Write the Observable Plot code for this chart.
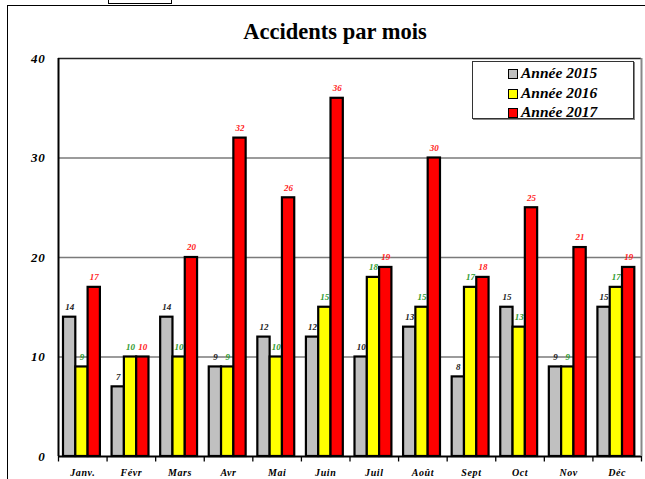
<!DOCTYPE html>
<html>
<head>
<meta charset="utf-8">
<script src="https://cdn.jsdelivr.net/npm/d3@7"></script>
<script src="https://cdn.jsdelivr.net/npm/@observablehq/plot@0.6"></script>
<style>
  html, body { margin: 0; padding: 0; background: #fff; }
  #wrap { position: relative; width: 645px; height: 479px; overflow: hidden; font-family: "Liberation Serif", "DejaVu Serif", serif; }
  #chart { position: absolute; left: 0; top: 0; }
  #frame { position: absolute; left: 7px; top: 5px; width: 700px; height: 600px; border-left: 1.5px solid #000; border-top: 1.5px solid #000; }
  #tab { position: absolute; left: 108px; top: -2px; width: 62px; height: 4px; border: 1px solid #000; background: #fff; }
  #title { position: absolute; left: 185px; top: 19px; width: 300px; text-align: center; font-weight: bold; font-size: 22.5px; color: #000; }
  #legend { position: absolute; left: 472px; top: 61px; width: 160px; height: 56px; border: 1.5px solid #333; background: #fff; box-shadow: 1px 1px 0 #888; }
  .item { position: absolute; left: 35px; height: 18px; font-weight: bold; font-style: italic; font-size: 15.5px; line-height: 18px; white-space: nowrap; }
  .sw { display: inline-block; width: 10px; height: 10px; border: 1px solid #000; margin-right: 3px; vertical-align: -1px; box-sizing: border-box; }
  #chart svg g[aria-label="x-axis tick label"] text { letter-spacing: 0.6px; }
  #chart svg g[aria-label="y-axis tick label"] text { letter-spacing: 0.8px; }
</style>
</head>
<body>
<div id="wrap">
  <div id="chart"></div>
  <div id="frame"></div>
  <div id="tab"></div>
  <div id="title">Accidents par mois</div>
  <div id="legend"></div>
</div>
<script>
const months = ["Janv.", "Févr", "Mars", "Avr", "Mai", "Juin", "Juil", "Août", "Sept", "Oct", "Nov", "Déc"];
const years = ["Année 2015", "Année 2016", "Année 2017"];
const v2015 = [14, 7, 14, 9, 12, 12, 10, 13, 8, 15, 9, 15];
const v2016 = [9, 10, 10, 9, 10, 15, 18, 15, 17, 13, 9, 17];
const v2017 = [17, 10, 20, 32, 26, 36, 19, 30, 18, 25, 21, 19];
const yTicks = [0, 10, 20, 30, 40];
const barColors = ["#c0c0c0", "#ffff00", "#ff0000"];
const labelColors = ["#222222", "#2e9a2e", "#ff1a1a"];

const series = [v2015, v2016, v2017];

const W = 645, H = 479;
const mL = 58, mR = 4, mT = 58, mB = 23;
const band = (W - mL - mR) / months.length;
const padL = 5, barW = 12.3;

const marks = [];
// gridlines
marks.push(Plot.ruleY(yTicks.filter(t => t > 0 && t < 40), {stroke: "#7a7a7a", strokeWidth: 1.5}));
marks.push(Plot.ruleY([40], {stroke: "#222", strokeWidth: 1.5}));

series.forEach((vals, i) => {
  const rows = months.map((m, j) => ({month: m, value: vals[j]}));
  const left = padL + barW * i;
  const right = band - left - barW;
  marks.push(Plot.barY(rows, {
    x: "month", y: "value", fill: barColors[i], stroke: "#000", strokeWidth: 2.2,
    insetLeft: left, insetRight: right
  }));
  marks.push(Plot.text(rows, {
    x: "month", y: "value", text: d => String(d.value),
    dx: left + barW / 2 - band / 2, dy: -10,
    fill: labelColors[i], fontSize: 9, fontWeight: "bold", fontStyle: "italic"
  }));
});

// axes lines
marks.push(Plot.ruleY([0], {stroke: "#000", strokeWidth: 2}));
marks.push(Plot.ruleX([months[0]], {y1: 0, y2: 40, dx: -band / 2, stroke: "#000", strokeWidth: 2}));
marks.push(Plot.ruleX([months[months.length - 1]], {y1: 0, y2: 40, dx: band / 2, stroke: "#888", strokeWidth: 2}));
// x ticks at band boundaries
marks.push(Plot.ruleX(months, {y1: 0, y2: -0.55, dx: -band / 2, stroke: "#000", strokeWidth: 1.3}));
marks.push(Plot.ruleX([months[months.length - 1]], {y1: 0, y2: -0.55, dx: band / 2, stroke: "#000", strokeWidth: 1.3}));

marks.push(Plot.axisY({ticks: yTicks, tickSize: 8, tickPadding: 5, tickFormat: d => String(d),
  fontSize: 13, fontWeight: "bold", fontStyle: "italic", stroke: null}));
marks.push(Plot.axisX({tickSize: 0, tickPadding: 12, fontSize: 10, fontWeight: "bold", fontStyle: "italic"}));

const chart = Plot.plot({
  width: W, height: H,
  marginLeft: mL, marginRight: mR, marginTop: mT, marginBottom: mB,
  style: {fontFamily: "'Liberation Serif', serif", color: "#000", background: "transparent", overflow: "visible"},
  x: {domain: months, padding: 0, round: false, label: null},
  y: {domain: [0, 40], label: null},
  marks
});
document.getElementById("chart").appendChild(chart);

const legend = document.getElementById("legend");
years.forEach((y, i) => {
  const it = document.createElement("div");
  it.className = "item";
  it.style.top = (2 + i * 19.5) + "px";
  const sw = document.createElement("span");
  sw.className = "sw";
  sw.style.background = barColors[i];
  it.appendChild(sw);
  it.appendChild(document.createTextNode(y));
  legend.appendChild(it);
});
</script>
</body>
</html>
